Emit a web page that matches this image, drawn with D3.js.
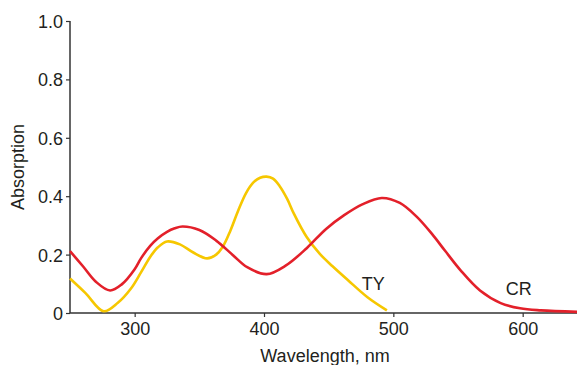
<!DOCTYPE html>
<html>
<head>
<meta charset="utf-8">
<script src="https://cdn.jsdelivr.net/npm/d3@7"></script>
<style>
  html, body { margin: 0; padding: 0; background: #fff; }
  svg { display: block; }
  text { font-family: "Liberation Sans", Arial, Helvetica, sans-serif; fill: #231f20; }
</style>
</head>
<body>
<svg id="chart" width="577" height="365"></svg>
<script>
// ---- data ----
const crWavelength = [250, 260, 270, 281, 290, 300, 305, 312, 318, 325, 331, 337, 350, 363, 376, 387, 402, 417, 433, 448, 462, 476, 491, 505, 518, 530, 540, 552, 567, 583, 598, 614, 642];
const crAbsorption = [0.212, 0.160, 0.107, 0.077, 0.098, 0.150, 0.188, 0.230, 0.256, 0.278, 0.290, 0.296, 0.284, 0.248, 0.198, 0.157, 0.133, 0.163, 0.222, 0.288, 0.335, 0.372, 0.394, 0.377, 0.330, 0.270, 0.213, 0.146, 0.077, 0.034, 0.016, 0.009, 0.004];
const tyWavelength = [250, 262, 276, 287, 297, 305, 312, 318, 325, 335, 345, 356, 363, 368, 374, 380, 386, 392, 397, 402, 407, 412, 418, 423, 433, 443, 453, 465, 480, 495];
const tyAbsorption = [0.118, 0.068, 0.006, 0.035, 0.083, 0.140, 0.192, 0.225, 0.245, 0.235, 0.208, 0.187, 0.200, 0.226, 0.282, 0.350, 0.410, 0.448, 0.463, 0.467, 0.460, 0.435, 0.390, 0.341, 0.260, 0.203, 0.160, 0.112, 0.054, 0.009];
const xTicks = [300, 400, 500, 600];
const yTicks = [0, 0.2, 0.4, 0.6, 0.8, 1.0];
const seriesNames = ["CR", "TY"];
const labelPositions = [[587, 0.062], [475.5, 0.079]]; // [wavelength, absorption] of label start (CR, TY)
const xTitle = "Wavelength, nm";
const yTitle = "Absorption";

// ---- layout ----
const svg = d3.select("#chart");
const x = d3.scaleLinear().domain([250, 642]).range([70, 577]);
const y = d3.scaleLinear().domain([0, 1]).range([313, 21]);

const axisColor = "#333";

// y axis
const yAxis = svg.append("g")
  .attr("transform", `translate(${x(250)},0)`)
  .call(d3.axisLeft(y).tickValues(yTicks).tickSize(4).tickPadding(3)
    .tickFormat(d => d === 0 ? "0" : d3.format(".1f")(d)));
yAxis.select(".domain").attr("stroke", axisColor).attr("stroke-width", 1.5).attr("d", `M0,${y(1)}V${y(0)}`);
yAxis.selectAll(".tick line").attr("stroke", axisColor).attr("stroke-width", 1.2);
yAxis.selectAll("text").style("font-size", "18px").attr("fill", "#231f20").attr("dy", "0.36em");

// x axis
const xAxis = svg.append("g")
  .attr("transform", `translate(0,${y(0)})`)
  .call(d3.axisBottom(x).tickValues(xTicks).tickSize(4).tickPadding(5).tickFormat(d3.format("d")));
xAxis.select(".domain").attr("stroke", axisColor).attr("stroke-width", 1.5).attr("d", `M${x(250)},0H577`);
xAxis.selectAll(".tick line").attr("stroke", axisColor).attr("stroke-width", 1.2);
xAxis.selectAll("text").style("font-size", "18px").attr("fill", "#231f20");

// titles
svg.append("text")
  .attr("x", 325).attr("y", 362)
  .attr("text-anchor", "middle")
  .style("font-size", "18px")
  .text(xTitle);
svg.append("text")
  .attr("transform", `translate(24,167) rotate(-90)`)
  .attr("text-anchor", "middle")
  .style("font-size", "18px")
  .text(yTitle);

// lines
const line = d3.line().x(d => x(d[0])).y(d => y(d[1])).curve(d3.curveCatmullRom.alpha(0.5));
const crData = crWavelength.map((w, i) => [w, crAbsorption[i]]);
const tyData = tyWavelength.map((w, i) => [w, tyAbsorption[i]]);

svg.append("path").datum(tyData)
  .attr("d", line).attr("fill", "none")
  .attr("stroke", "#f6c700").attr("stroke-width", 2.6);
svg.append("path").datum(crData)
  .attr("d", line).attr("fill", "none")
  .attr("stroke", "#e3202a").attr("stroke-width", 2.6);

// series labels
seriesNames.forEach((name, i) => {
  svg.append("text")
    .attr("x", x(labelPositions[i][0]))
    .attr("y", y(labelPositions[i][1]))
    .style("font-size", "18px")
    .text(name);
});
</script>
</body>
</html>
